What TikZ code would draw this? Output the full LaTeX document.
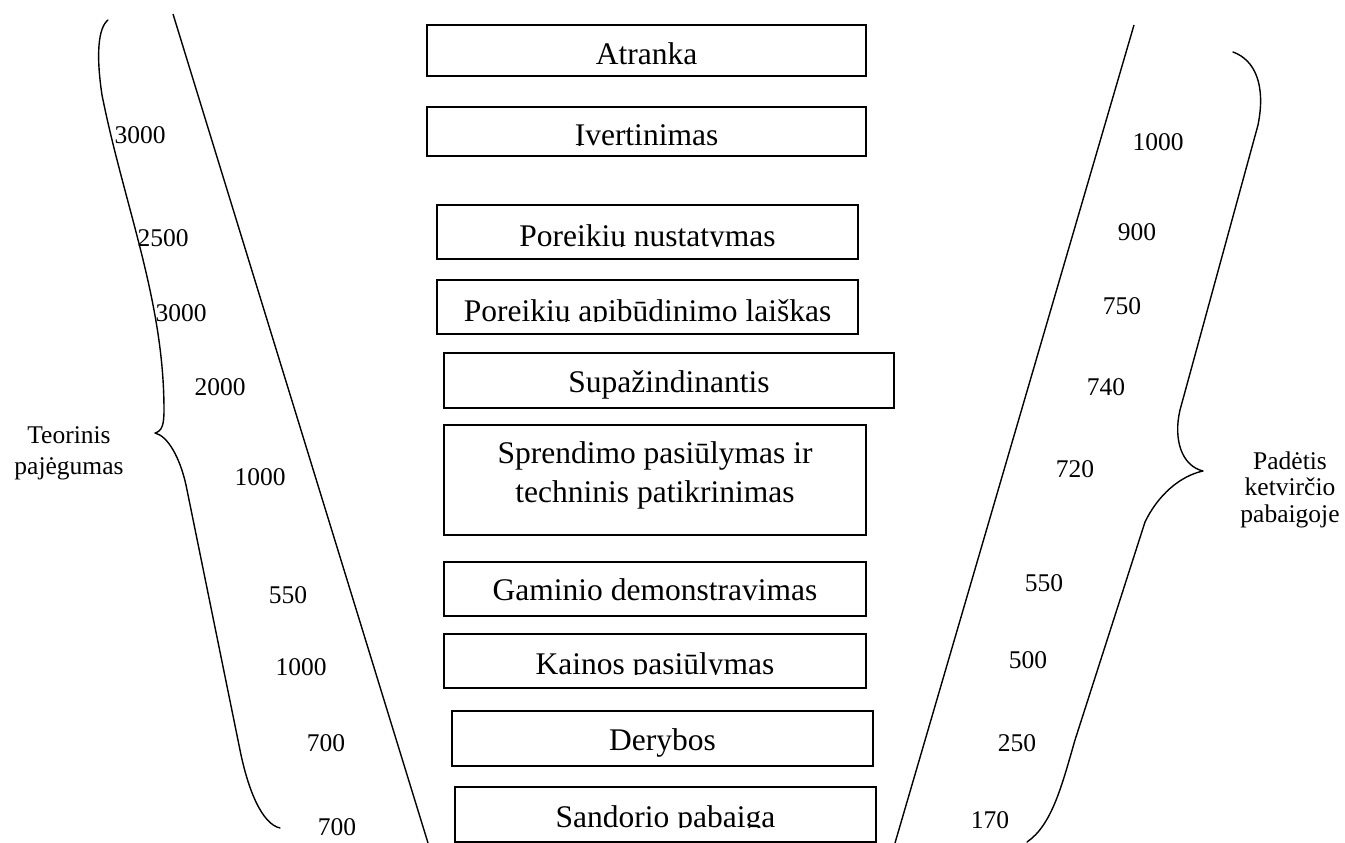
\documentclass[tikz,border=0pt]{standalone}
\usepackage{fontspec}
\setmainfont{Liberation Serif}
\begin{document}
\begin{tikzpicture}[x=1pt,y=-1pt,
  stage/.style={draw, line width=1.6pt, inner sep=0pt},
  stagetext/.style={anchor=base, inner sep=0pt, font=\fontsize{31.5}{36}\selectfont},
  figure/.style={inner sep=0pt, font=\fontsize{25.5}{30}\selectfont},
  edge/.style={line width=1.4pt},
  curly/.style={line width=1.4pt, line join=round, line cap=round}]
\useasboundingbox (0,0) rectangle (1345,843);

% stage boxes of the funnel
\node[stage, minimum width=439pt, minimum height=51pt] (a) at (646.5,50.5) {};
\node[stage, minimum width=439pt, minimum height=49pt] (b) at (646.5,131.5) {};
\node[stage, minimum width=421pt, minimum height=54pt] (c) at (647.5,232) {};
\node[stage, minimum width=421pt, minimum height=54pt] (d) at (647.5,307) {};
\node[stage, minimum width=450pt, minimum height=55pt] (e) at (669,380.5) {};
\node[stage, minimum width=422pt, minimum height=110pt] (f) at (655,480) {};
\node[stage, minimum width=422pt, minimum height=54pt] (g) at (655,589) {};
\node[stage, minimum width=422pt, minimum height=54pt] (h) at (655,661) {};
\node[stage, minimum width=421pt, minimum height=55pt] (i) at (662.5,738.5) {};
\node[stage, minimum width=421pt, minimum height=55pt] (j) at (665.5,814.5) {};

% stage names (some are cut off at the foot of their box)
\node[stagetext] (ta) at (646.5,65) {Atranka};
\begin{scope}
  \clip (427,107) rectangle (866,145.2);
  \node[stagetext] (tb) at (646.5,146) {Įvertinimas};
\end{scope}
\begin{scope}
  \clip (437,205) rectangle (858,246.8);
  \node[stagetext] (tc) at (647.5,246) {Poreikių nustatymas};
\end{scope}
\begin{scope}
  \clip (437,280) rectangle (858,321.8);
  \node[stagetext] (td) at (647.5,321) {Poreikių apibūdinimo laiškas};
\end{scope}
\node[stagetext] (te) at (669,392) {Supažindinantis};
\node[stagetext] (tf1) at (655,463) {Sprendimo pasiūlymas ir};
\node[stagetext] (tf2) at (655,502) {techninis patikrinimas};
\node[stagetext] (tg) at (655,600) {Gaminio demonstravimas};
\begin{scope}
  \clip (444,634) rectangle (866,674.8);
  \node[stagetext] (th) at (655,674) {Kainos pasiūlymas};
\end{scope}
\node[stagetext] (ti) at (662.5,750) {Derybos};
\begin{scope}
  \clip (455,787) rectangle (876,827.8);
  \node[stagetext] (tj) at (665.5,827) {Sandorio pabaiga};
\end{scope}

% funnel sides
\coordinate (lt) at (173,14);
\coordinate (lb) at (428,843);
\coordinate (rt) at (1134,25);
\coordinate (rb) at (895,843);
\draw[edge] (lt) -- (lb);
\draw[edge] (rt) -- (rb);

% left brace
\draw[curly] (108,20) .. controls (98,28) and (96,55) .. (102,95)
  .. controls (124,205) and (164,300) .. (164,410)
  .. controls (164,425) and (162,431) .. (155,433)
  .. controls (168,436) and (180,458) .. (186,485)
  -- (240,750)
  .. controls (248,790) and (262,824) .. (280,828);

% right brace
\draw[curly] (1233,52) .. controls (1255,60) and (1266,85) .. (1258,125)
  -- (1180,410)
  .. controls (1173,440) and (1182,466) .. (1203,471)
  .. controls (1180,476) and (1158,495) .. (1145,522)
  -- (1075,740)
  .. controls (1062,785) and (1052,825) .. (1027,842);

% brace labels
\node[figure, align=center, font=\fontsize{25.5}{31}\selectfont] (lefttitle) at (69,453) {Teorinis\\pajėgumas};
\node[figure, align=center, font=\fontsize{25.5}{26.5}\selectfont] (righttitle) at (1290,489.5) {Padėtis\\ketvirčio\\pabaigoje};

% left figures
\node[figure] (l1) at (140,135) {3000};
\node[figure] (l2) at (163,238) {2500};
\node[figure] (l3) at (181,313) {3000};
\node[figure] (l4) at (220,387) {2000};
\node[figure] (l5) at (260,477) {1000};
\node[figure] (l6) at (288,595) {550};
\node[figure] (l7) at (301,667) {1000};
\node[figure] (l8) at (326,743) {700};
\node[figure] (l9) at (337,827) {700};

% right figures
\node[figure] (r1) at (1158,142) {1000};
\node[figure] (r2) at (1137,232) {900};
\node[figure] (r3) at (1122,306) {750};
\node[figure] (r4) at (1106,387) {740};
\node[figure] (r5) at (1075,469) {720};
\node[figure] (r6) at (1044,583) {550};
\node[figure] (r7) at (1028,660) {500};
\node[figure] (r8) at (1017,743) {250};
\node[figure] (r9) at (990,820) {170};
\end{tikzpicture}
\end{document}
